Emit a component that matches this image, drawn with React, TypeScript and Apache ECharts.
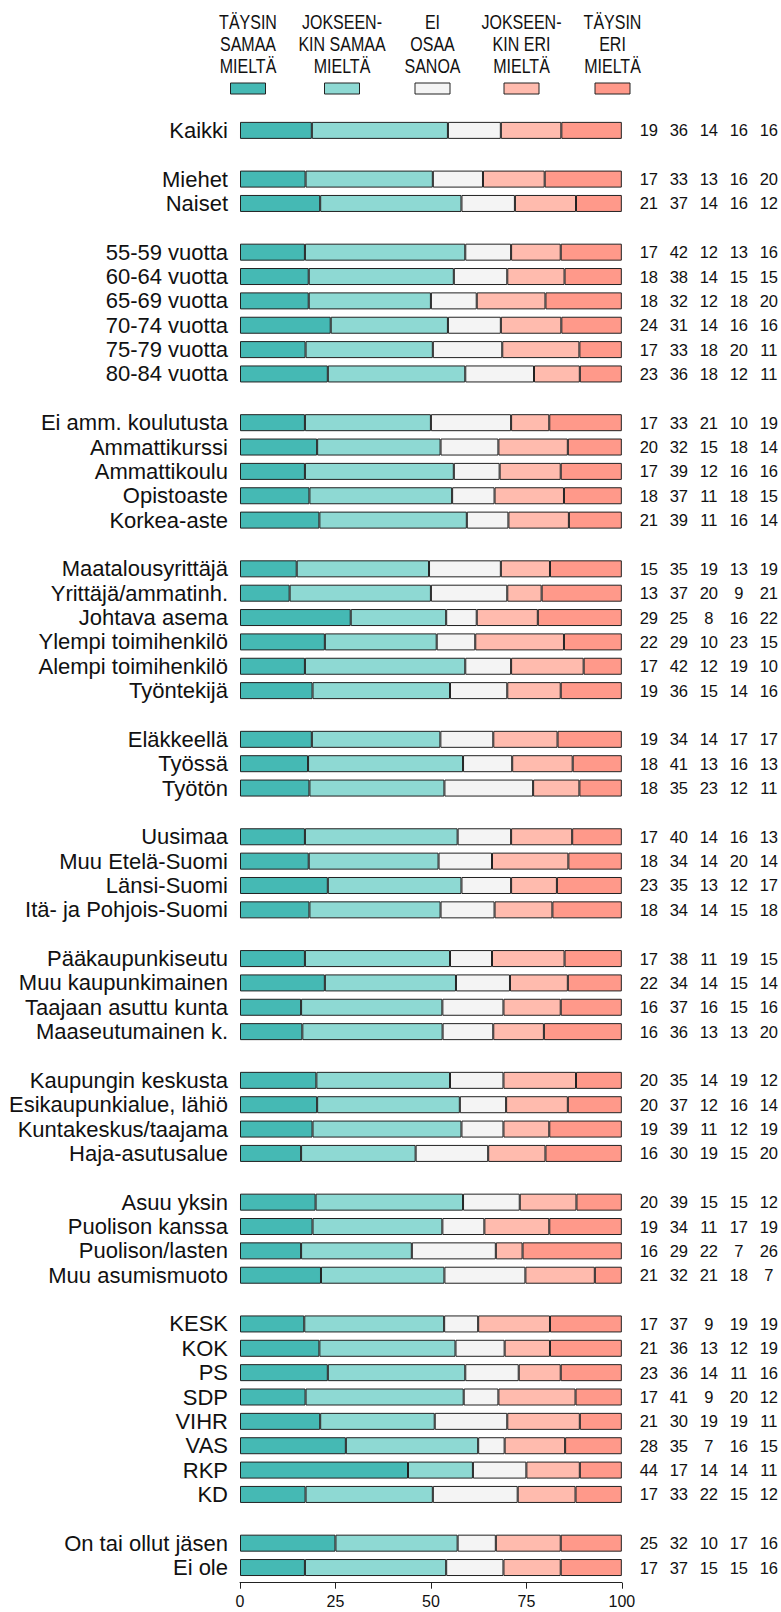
import React, { useEffect, useRef } from "react";
import * as echarts from "echarts";

// ---- Data ----
const answerNames = [
  "TÄYSIN\nSAMAA\nMIELTÄ",
  "JOKSEEN-\nKIN SAMAA\nMIELTÄ",
  "EI\nOSAA\nSANOA",
  "JOKSEEN-\nKIN ERI\nMIELTÄ",
  "TÄYSIN\nERI\nMIELTÄ",
];
const colors = ["#45B9B4", "#8ED9D3", "#F4F4F4", "#FFBBAE", "#FF998A"];

const groupSizes = [1, 2, 6, 5, 6, 3, 4, 4, 4, 4, 8, 2];

const rowLabels = [
  "Kaikki",
  "Miehet", "Naiset",
  "55-59 vuotta", "60-64 vuotta", "65-69 vuotta", "70-74 vuotta", "75-79 vuotta", "80-84 vuotta",
  "Ei amm. koulutusta", "Ammattikurssi", "Ammattikoulu", "Opistoaste", "Korkea-aste",
  "Maatalousyrittäjä", "Yrittäjä/ammatinh.", "Johtava asema", "Ylempi toimihenkilö", "Alempi toimihenkilö", "Työntekijä",
  "Eläkkeellä", "Työssä", "Työtön",
  "Uusimaa", "Muu Etelä-Suomi", "Länsi-Suomi", "Itä- ja Pohjois-Suomi",
  "Pääkaupunkiseutu", "Muu kaupunkimainen", "Taajaan asuttu kunta", "Maaseutumainen k.",
  "Kaupungin keskusta", "Esikaupunkialue, lähiö", "Kuntakeskus/taajama", "Haja-asutusalue",
  "Asuu yksin", "Puolison kanssa", "Puolison/lasten", "Muu asumismuoto",
  "KESK", "KOK", "PS", "SDP", "VIHR", "VAS", "RKP", "KD",
  "On tai ollut jäsen", "Ei ole",
];

const taysinSamaa = [
  19,
  17, 21,
  17, 18, 18, 24, 17, 23,
  17, 20, 17, 18, 21,
  15, 13, 29, 22, 17, 19,
  19, 18, 18,
  17, 18, 23, 18,
  17, 22, 16, 16,
  20, 20, 19, 16,
  20, 19, 16, 21,
  17, 21, 23, 17, 21, 28, 44, 17,
  25, 17,
];
const jokseenkinSamaa = [
  36,
  33, 37,
  42, 38, 32, 31, 33, 36,
  33, 32, 39, 37, 39,
  35, 37, 25, 29, 42, 36,
  34, 41, 35,
  40, 34, 35, 34,
  38, 34, 37, 36,
  35, 37, 39, 30,
  39, 34, 29, 32,
  37, 36, 36, 41, 30, 35, 17, 33,
  32, 37,
];
const eiOsaa = [
  14,
  13, 14,
  12, 14, 12, 14, 18, 18,
  21, 15, 12, 11, 11,
  19, 20, 8, 10, 12, 15,
  14, 13, 23,
  14, 14, 13, 14,
  11, 14, 16, 13,
  14, 12, 11, 19,
  15, 11, 22, 21,
  9, 13, 14, 9, 19, 7, 14, 22,
  10, 15,
];
const jokseenkinEri = [
  16,
  16, 16,
  13, 15, 18, 16, 20, 12,
  10, 18, 16, 18, 16,
  13, 9, 16, 23, 19, 14,
  17, 16, 12,
  16, 20, 12, 15,
  19, 15, 15, 13,
  19, 16, 12, 15,
  15, 17, 7, 18,
  19, 12, 11, 20, 19, 16, 14, 15,
  17, 15,
];
const taysinEri = [
  16,
  20, 12,
  16, 15, 20, 16, 11, 11,
  19, 14, 16, 15, 14,
  19, 21, 22, 15, 10, 16,
  17, 13, 11,
  13, 14, 17, 18,
  15, 14, 16, 20,
  12, 14, 19, 20,
  12, 19, 26, 7,
  19, 19, 16, 12, 11, 15, 11, 12,
  16, 16,
];

const xTicks = [0, 25, 50, 75, 100];

// ---- Layout constants ----
const W = 781;
const H = 1612;
const FONT = "'Liberation Sans', Arial, Helvetica, sans-serif";

export default function App() {
  const ref = useRef<HTMLDivElement>(null);

  useEffect(() => {
    if (!ref.current) return;
    const chart = echarts.init(ref.current, undefined, { renderer: "svg" });

    const seriesRaw = [taysinSamaa, jokseenkinSamaa, eiOsaa, jokseenkinEri, taysinEri];

    // Build padded rows with blank separator rows between groups
    const cats: string[] = [];
    const rowIndex: (number | null)[] = [];
    let k = 0;
    groupSizes.forEach((g, gi) => {
      if (gi > 0) {
        cats.push(" ".repeat(gi));
        rowIndex.push(null);
      }
      for (let j = 0; j < g; j++) {
        cats.push(rowLabels[k]);
        rowIndex.push(k);
        k++;
      }
    });

    const sums = rowLabels.map((_, i) => seriesRaw.reduce((s, arr) => s + arr[i], 0));

    const series = seriesRaw.map((arr, si) => ({
      type: "bar",
      name: answerNames[si],
      stack: "all",
      barWidth: 17,
      data: rowIndex.map((ri) => (ri === null ? null : (arr[ri] / sums[ri]) * 100)),
      itemStyle: { color: colors[si], borderColor: "#222", borderWidth: 1 },
      silent: true,
    }));

    const gridLeft = 240;
    const gridRight = W - 622;
    const gridTop = 118.2;
    const gridBottomEdge = 1579.7;

    // Legend graphics
    const legendX = [248, 342, 432.5, 521.5, 612.5];
    const legendEls: any[] = [];
    answerNames.forEach((name, i) => {
      const lines = name.split("\n");
      lines.forEach((ln, li) => {
        legendEls.push({
          type: "text",
          x: legendX[i],
          y: 22 + li * 22,
          scaleX: 0.8,
          style: {
            text: ln,
            fontSize: 20,
            fontFamily: FONT,
            fill: "#111",
            textAlign: "center",
            textVerticalAlign: "middle",
            align: "center",
            verticalAlign: "middle",
          },
        });
      });
      legendEls.push({
        type: "rect",
        shape: { x: legendX[i] - 17.5, y: 83, width: 35, height: 11 },
        style: { fill: colors[i], stroke: "#222", lineWidth: 1 },
      });
    });

    const option: any = {
      animation: false,
      backgroundColor: "#fff",
      grid: {
        left: gridLeft,
        right: gridRight,
        top: gridTop,
        height: gridBottomEdge - gridTop,
        containLabel: false,
      },
      xAxis: {
        type: "value",
        min: 0,
        max: 100,
        interval: 25,
        offset: 3,
        axisLine: { show: true, lineStyle: { color: "#222", width: 1 } },
        axisTick: { show: true, length: 6, lineStyle: { color: "#222" } },
        splitLine: { show: false },
        axisLabel: {
          margin: 11,
          fontSize: 16,
          fontFamily: FONT,
          color: "#111",
          formatter: (v: number) => (xTicks.includes(v) ? String(v) : ""),
        },
      },
      yAxis: [
        {
          type: "category",
          data: cats,
          inverse: true,
          axisLine: { show: false },
          axisTick: { show: false },
          splitLine: { show: false },
          axisLabel: {
            interval: 0,
            margin: 12,
            fontSize: 22,
            fontFamily: FONT,
            color: "#111",
          },
        },
        {
          type: "category",
          data: cats,
          inverse: true,
          position: "right",
          axisLine: { show: false },
          axisTick: { show: false },
          splitLine: { show: false },
          axisLabel: {
            interval: 0,
            margin: 12,
            align: "left",
            fontFamily: FONT,
            color: "#111",
            fontSize: 16.5,
            formatter: (_v: string, idx: number) => {
              const ri = rowIndex[idx];
              if (ri === null || ri === undefined) return "";
              return seriesRaw.map((arr) => `{n|${arr[ri]}}`).join("");
            },
            rich: {
              n: { width: 30, align: "center", fontSize: 16.5, fontFamily: FONT, color: "#111" },
            },
          },
        },
      ],
      graphic: legendEls,
      series,
    };

    chart.setOption(option);
    return () => chart.dispose();
  }, []);

  return (
    <div
      ref={ref}
      style={{ position: "absolute", left: 0, top: 0, width: W, height: H, background: "#fff" }}
    />
  );
}
